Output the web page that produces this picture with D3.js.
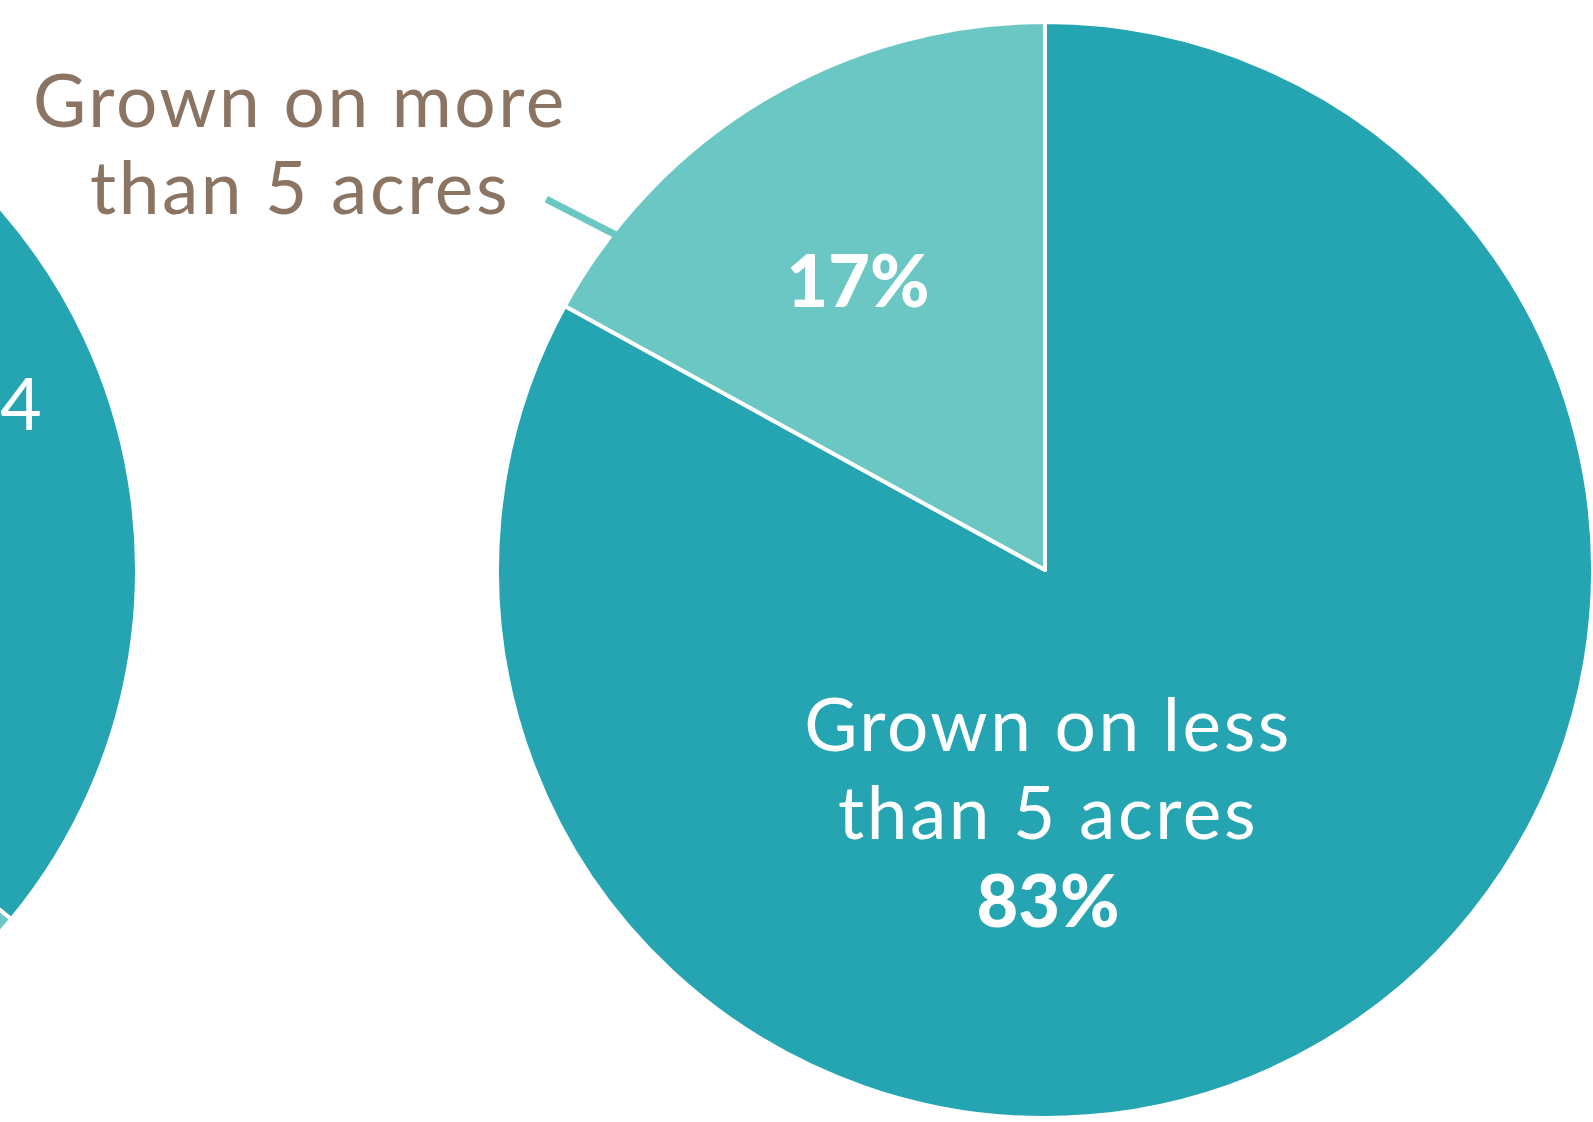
<!DOCTYPE html>
<html><head><meta charset="utf-8">
<script src="https://cdn.jsdelivr.net/npm/d3@7"></script>
<style>html,body{margin:0;padding:0;background:#fff;overflow:hidden}</style>
</head><body>
<svg id="c" width="1593" height="1122"></svg>
<script>
// Main pie: share of production by farm size
const categories = ["Grown on less than 5 acres", "Grown on more than 5 acres"];
const values = [83, 17];
const valueLabels = ["83%", "17%"];
// Partially visible neighbouring pie (cut off at left edge)
const leftValues = [36, 64];
const leftLabel = "4";

const colors = ["#25a4b1", "#6bc7c3"];
const textBrown = "#8b7461";
const font = "Lato, 'Open Sans', sans-serif";

const svg = d3.select("#c");
const R = 548;
const pie = d3.pie().sort(null).value(d => d);
const arc = d3.arc().innerRadius(0).outerRadius(R);

// left partial pie
const gl = svg.append("g").attr("transform", "translate(-411,570)");
gl.selectAll("path").data(pie(leftValues)).join("path")
  .attr("d", arc).attr("fill", (d, i) => colors[i])
  .attr("stroke", "#fff").attr("stroke-width", 4).attr("stroke-linejoin", "round");
svg.append("text").attr("x", 0).attr("y", 430).attr("text-anchor", "start")
  .attr("fill", "#fff").attr("font-family", font).attr("font-size", 72)
  .text(leftLabel);

// main pie
const cx = 1045, cy = 570;
const g = svg.append("g").attr("transform", `translate(${cx},${cy})`);
const arcs = pie(values);
g.selectAll("path").data(arcs).join("path")
  .attr("d", arc).attr("fill", (d, i) => colors[i])
  .attr("stroke", "#fff").attr("stroke-width", 4).attr("stroke-linejoin", "round");

// leader line for small slice, starting on the slice's rim
const small = arcs[1];
const a0 = small.startAngle + (small.endAngle - small.startAngle) * 0.15 - 2 * Math.PI;
const p = (r, a) => [r * Math.sin(a), -r * Math.cos(a)];
const [x1, y1] = p(R - 4, a0);
const x2 = x1 - 70, y2 = y1 - 36;
g.append("line").attr("x1", x1).attr("y1", y1).attr("x2", x2).attr("y2", y2)
  .attr("stroke", colors[1]).attr("stroke-width", 7);

// outside label
const outLines = ["Grown on more", "than 5 acres"];
svg.append("text").attr("text-anchor", "middle").attr("font-family", font)
  .attr("font-size", 73).attr("letter-spacing", 2.5).attr("fill", textBrown)
  .selectAll("tspan").data(outLines).join("tspan")
  .attr("x", 300).attr("y", (d, i) => 127 + i * 87).text(d => d);

// 17% inside small slice
svg.append("text").attr("x", 858).attr("y", 307).attr("text-anchor", "middle")
  .attr("font-family", font).attr("font-weight", 900).attr("font-size", 72)
  .attr("fill", "#fff").text(valueLabels[1]);

// label inside large slice
const inLines = ["Grown on less", "than 5 acres"];
svg.append("text").attr("text-anchor", "middle").attr("font-family", font)
  .attr("font-size", 73).attr("letter-spacing", 2.5).attr("fill", "#fff")
  .selectAll("tspan").data(inLines).join("tspan")
  .attr("x", 1048).attr("y", (d, i) => 751 + i * 88).text(d => d);
svg.append("text").attr("x", 1048).attr("y", 927).attr("text-anchor", "middle")
  .attr("font-family", font).attr("font-weight", 900).attr("font-size", 72)
  .attr("fill", "#fff").text(valueLabels[0]);
</script>
</body></html>
